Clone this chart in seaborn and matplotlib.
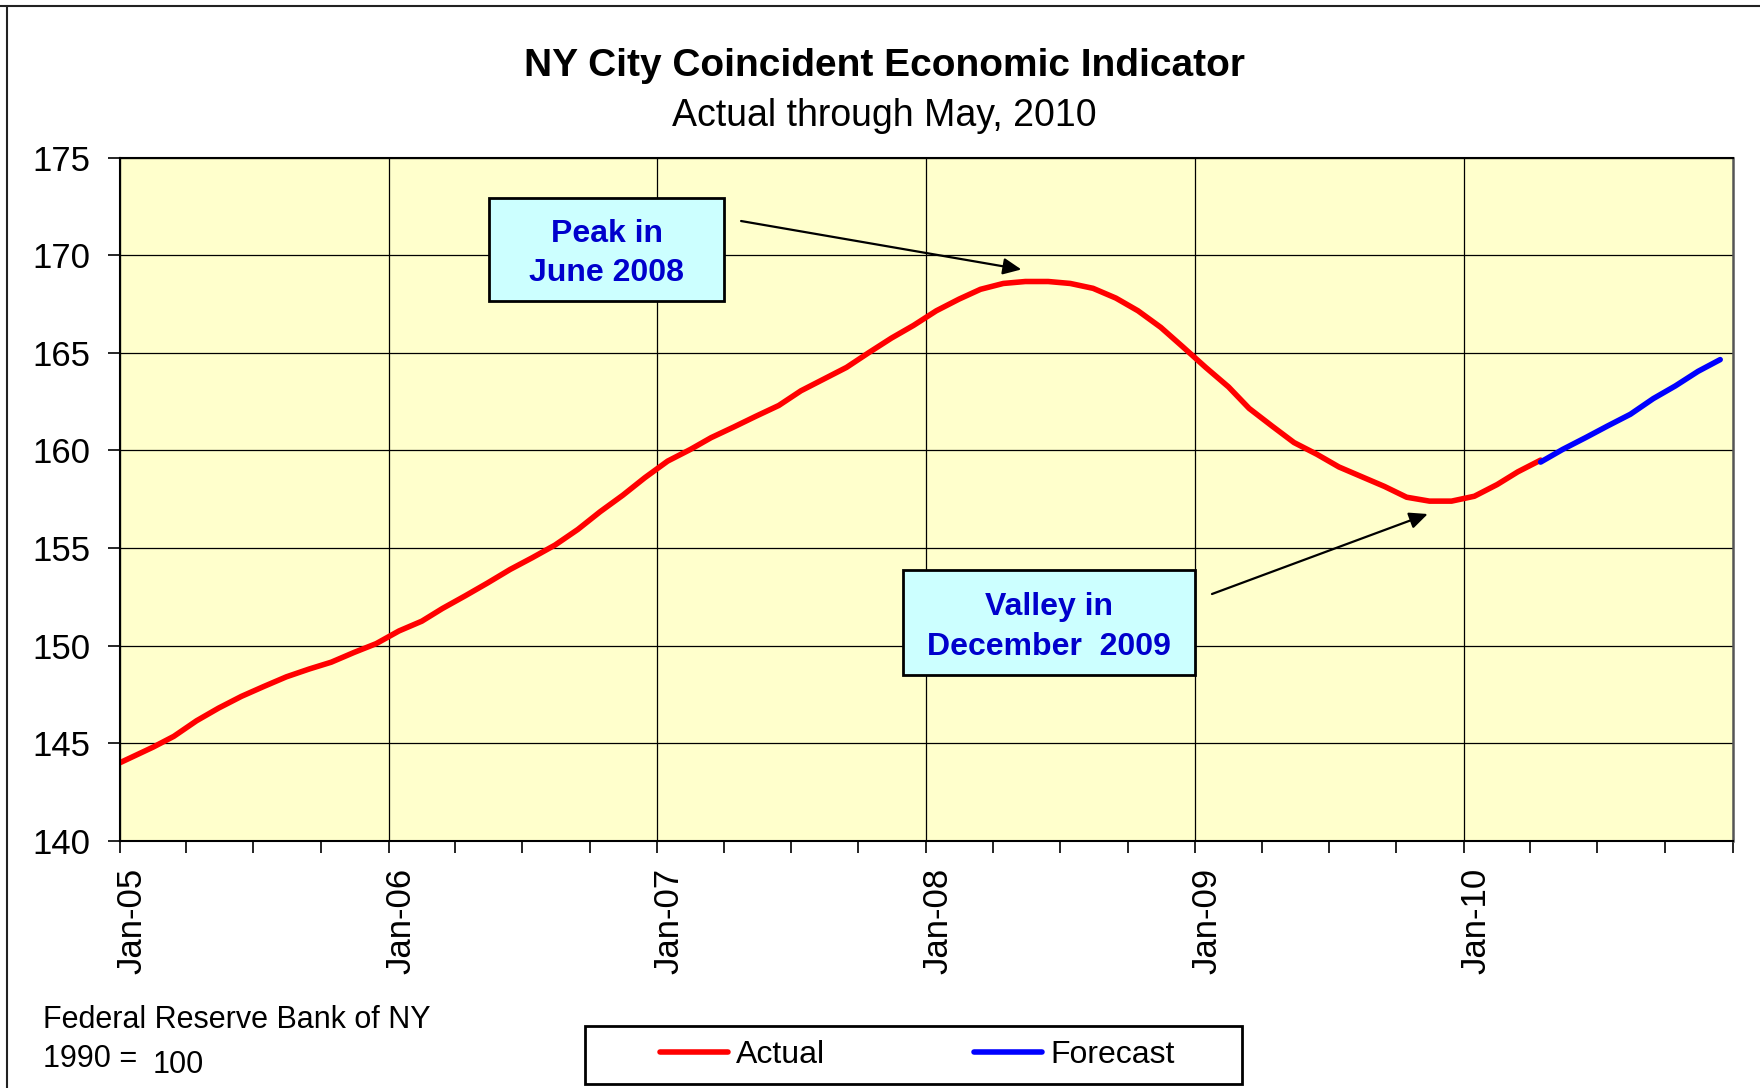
import numpy as np
import pandas as pd
import matplotlib.pyplot as plt
import matplotlib.dates as mdates
import matplotlib.transforms as mtransforms
from matplotlib.patches import Rectangle
from matplotlib.lines import Line2D
import seaborn as sns

# NY City coincident economic indicator (1990 = 100), monthly, plotted mid-month
actual_start = "2004-12"
actual_values = [
    143.7,
    144.25, 144.8, 145.35, 146.15, 146.8, 147.4, 147.9, 148.4, 148.8, 149.15, 149.65, 150.1,   # 2005
    150.75, 151.25, 151.9, 152.55, 153.2, 153.9, 154.5, 155.15, 155.95, 156.85, 157.7, 158.6,  # 2006
    159.45, 160.05, 160.65, 161.2, 161.75, 162.3, 163.05, 163.65, 164.25, 165.0, 165.75, 166.4,  # 2007
    167.15, 167.75, 168.25, 168.55, 168.65, 168.65, 168.55, 168.3, 167.8, 167.15, 166.3, 165.3,  # 2008
    164.25, 163.25, 162.15, 161.25, 160.4, 159.8, 159.15, 158.65, 158.15, 157.6, 157.4, 157.4,  # 2009
    157.65, 158.25, 158.9, 159.5,                                                               # 2010
]
forecast_start = "2010-04"
forecast_values = [159.4, 160.05, 160.65, 161.25, 161.85, 162.65, 163.3, 164.05, 164.65]

series_names = ["Actual", "Forecast"]
series_colors = ["#FF0000", "#0000FF"]
y_ticks = [140, 145, 150, 155, 160, 165, 170, 175]
year_starts = ["2005-01-01", "2006-01-01", "2007-01-01", "2008-01-01", "2009-01-01", "2010-01-01"]
x_end = "2011-01-01"

title = "NY City Coincident Economic Indicator"
subtitle = "Actual through May, 2010"
peak_text = "Peak in\nJune 2008"
valley_text = "Valley in\nDecember  2009"

# build one long table for seaborn
def monthly(start, values, name):
    dates = pd.date_range(start, periods=len(values), freq="MS") + pd.Timedelta(days=14)
    return pd.DataFrame({"date": dates, "value": values, "series": name})

df = pd.concat([monthly(actual_start, actual_values, series_names[0]),
                monthly(forecast_start, forecast_values, series_names[1])], ignore_index=True)

sns.set_theme(style="white")
plt.rcParams["font.family"] = ["Liberation Sans", "DejaVu Sans"]
plt.rcParams["text.color"] = "black"
plt.rcParams["xtick.color"] = "black"
plt.rcParams["ytick.color"] = "black"
plt.rcParams["axes.labelcolor"] = "black"

fig = plt.figure(figsize=(17.6, 10.88), dpi=100)
ax = fig.add_axes([0.0682, 0.2272, 0.9163, 0.628])
ax.set_facecolor("#FFFFCC")

sns.lineplot(data=df, x="date", y="value", hue="series",
             palette=dict(zip(series_names, series_colors)),
             linewidth=4, legend=False, ax=ax,
             solid_capstyle="round", solid_joinstyle="round")

# axes
ax.set_ylim(y_ticks[0], y_ticks[-1])
ax.set_yticks(y_ticks)
ax.set_xlim(pd.Timestamp(year_starts[0]), pd.Timestamp(x_end))
major = pd.to_datetime(year_starts)
ax.set_xticks(major)
ax.xaxis.set_major_formatter(mdates.DateFormatter("%b-%y"))
minor = [d for d in pd.date_range(year_starts[0], x_end, freq="QS") if d not in set(major)]
ax.set_xticks(minor, minor=True)
ax.set_xlabel("")
ax.set_ylabel("")

ax.grid(True, which="major", color="black", linewidth=0.9)
ax.set_axisbelow(True)
ax.tick_params(axis="both", which="both", direction="out", length=8.5, width=1.2,
               color="black", left=True, bottom=True)
ax.tick_params(axis="y", labelsize=25, pad=13)
ax.tick_params(axis="x", labelsize=25, pad=11)

# rotated date labels sit a little right of their tick, as in the original
shift = mtransforms.ScaledTranslation(0.12, 0, fig.dpi_scale_trans)
for lab in ax.get_xticklabels():
    lab.set_rotation(90)
    lab.set_transform(lab.get_transform() + shift)

for side in ["left", "bottom", "top"]:
    ax.spines[side].set_color("black")
    ax.spines[side].set_linewidth(1.5)
ax.spines["right"].set_color("#555555")
ax.spines["right"].set_linewidth(1.8)

# callout boxes
box_style = dict(facecolor="#CCFFFF", edgecolor="black", linewidth=2, transform=ax.transAxes, zorder=5)
ax.add_patch(Rectangle((0.2288, 0.790), 0.1457, 0.1515, **box_style))
ax.add_patch(Rectangle((0.4858, 0.2432), 0.1810, 0.1531, **box_style))
ax.text(0.3017, 0.8600, peak_text, transform=ax.transAxes, ha="center", va="center",
        fontsize=23, fontweight="bold", color="#0000CC", linespacing=1.4, zorder=6)
ax.text(0.5763, 0.3130, valley_text, transform=ax.transAxes, ha="center", va="center",
        fontsize=23, fontweight="bold", color="#0000CC", linespacing=1.4, zorder=6)

arrow = dict(arrowstyle="-|>,head_length=0.55,head_width=0.25", color="black", lw=1.6,
             shrinkA=0, shrinkB=0, mutation_scale=20)
ax.annotate("", xy=(0.5589, 0.8362), xytext=(0.3851, 0.9071), xycoords="axes fraction",
            arrowprops=arrow, zorder=6)
ax.annotate("", xy=(0.8109, 0.4783), xytext=(0.6771, 0.3612), xycoords="axes fraction",
            arrowprops=arrow, zorder=6)

# titles and notes
fig.text(0.5023, 0.9297, title, ha="center", va="baseline", fontsize=28, fontweight="bold")
fig.text(0.5023, 0.8842, subtitle, ha="center", va="baseline", fontsize=27)
fig.text(0.0243, 0.0556, "Federal Reserve Bank of NY", ha="left", va="baseline", fontsize=22)
fig.text(0.0243, 0.0193, "1990 =", ha="left", va="baseline", fontsize=22)
fig.text(0.0870, 0.0138, "100", ha="left", va="baseline", fontsize=22)

# legend in its own box
handles = [Line2D([], [], color=c, linewidth=4, solid_capstyle="round") for c in series_colors]
fig.legend(handles, series_names, loc="center", bbox_to_anchor=(0.5211, 0.0303), ncol=2,
           frameon=False, fontsize=23, handlelength=2.13, handletextpad=0.25, columnspacing=4.67)
fig.add_artist(Rectangle((0.3326, 0.0034), 0.3731, 0.0536, transform=fig.transFigure,
                         facecolor="none", edgecolor="black", linewidth=2))

# outer chart frame (top and left edges)
fig.add_artist(Line2D([0, 1], [0.9949, 0.9949], transform=fig.transFigure, color="#222222", lw=1.5))
fig.add_artist(Line2D([0.004, 0.004], [0, 0.9949], transform=fig.transFigure, color="#222222", lw=1.5))

fig.savefig("out.png", dpi=100)
